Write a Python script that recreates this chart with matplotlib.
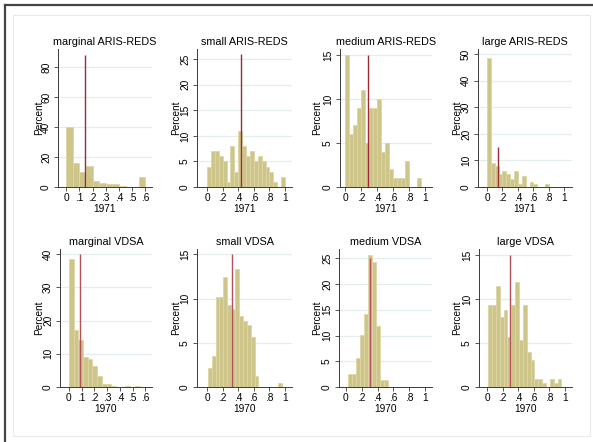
import matplotlib
matplotlib.use('Agg')
import matplotlib.pyplot as plt
from matplotlib.lines import Line2D
from matplotlib.patches import Rectangle
import numpy as np

plt.rcParams['font.family'] = ['Liberation Sans', 'DejaVu Sans']

W, H = 593, 442

titles = ['marginal ARIS-REDS', 'small ARIS-REDS', 'medium ARIS-REDS', 'large ARIS-REDS',
          'marginal VDSA', 'small VDSA', 'medium VDSA', 'large VDSA']
years = ['1971', '1971', '1971', '1971', '1970', '1970', '1970', '1970']

# percent in each bin
marg_aris = [40, 16, 10, 14, 4, 3, 2, 2, 1, 0, 0, 7]
small_aris = [4, 7, 7, 6, 5, 1, 8, 3, 11, 8, 6, 7, 5, 6, 5, 4, 3, 1, 0, 2]
med_aris = [15, 6, 7, 9, 11, 5, 9, 9, 10, 4, 5, 2, 1, 1, 1, 3, 0, 0, 1]
large_aris = [48.5, 9, 8, 5, 6, 5, 3, 6, 1, 4, 0, 2, 1, 0, 0, 1]
marg_vdsa = [38.5, 17.2, 14.1, 8.9, 8.4, 6.2, 3.4, 0.8, 0.8, 0.4, 0, 0, 0.4, 0, 0.4]
small_vdsa = [2.2, 3.5, 10.2, 10.2, 12.4, 9.3, 8.8, 13.3, 8.0, 7.5, 7.0, 5.7, 1.3, 0, 0, 0, 0, 0, 0.4]
med_vdsa = [2.6, 2.6, 5.7, 10.1, 14.1, 25.7, 24.3, 11.9, 1.3, 1.3]
large_vdsa = [9.3, 9.3, 11.5, 8.0, 8.8, 5.7, 9.3, 11.9, 5.3, 9.3, 4.0, 3.1, 0.9, 0.9, 0.4, 0, 0.9, 0.4, 0.9]

bin_start = [0, 0, 0, 0, 0, 0.01, 0.03, 0.01]
bin_width = [0.05, 0.05, 0.05, 0.05, 0.037, 0.05, 0.05, 0.05]
means = [0.14, 0.43, 0.29, 0.14, 0.087, 0.325, 0.30, 0.29]
line_top = [88, 26, 15, 15, 40, 15, 25, 15]

data = [marg_aris, small_aris, med_aris, large_aris, marg_vdsa, small_vdsa, med_vdsa, large_vdsa]

ymax = [92, 27, 15.7, 52, 41.6, 15.6, 26.8, 15.7]
ystep = [20, 5, 5, 10, 10, 5, 5, 5]
xmax_tick = [0.6, 1, 1, 1, 0.6, 1, 1, 1]
xlims = [(-0.063, 0.651), (-0.13, 1.09), (-0.067, 1.088), (-0.117, 1.10),
         (-0.070, 0.652), (-0.128, 1.09), (-0.085, 1.085), (-0.108, 1.096)]

# pixel boxes (left, right, top, bottom)
boxes = [(58, 152, 49, 187), (197, 292, 49, 187), (340, 432, 49, 187), (478, 572, 49, 187),
         (60, 152, 249, 387), (197, 292, 249, 387), (339, 432, 249, 387), (479, 572, 249, 387)]
ylab_x = [39, 176, 317, 457]

bar_fc = '#cec58a'
bar_ec = '#ddd6a4'
line_c = ['#9e2a35'] * 4 + ['#b5505a'] * 4
grid_c = '#e4edee'
ax_c = '#3a3a3a'


def fmt(v):
    if abs(v) < 1e-9:
        return '0'
    if abs(v - 1) < 1e-9:
        return '1'
    return ('%.1f' % v)[1:]


fig = plt.figure(figsize=(W / 100, H / 100), dpi=100)

# outer frame and graph region
fig.add_artist(Rectangle((13 / W, 1 - 436 / H), 577 / W, 421 / H, transform=fig.transFigure,
                         fill=False, edgecolor='#e6eced', lw=0.8))
fig.add_artist(Line2D([5 / W, 1], [1 - 5 / H, 1 - 5 / H], transform=fig.transFigure, color='#444', lw=1.6))
fig.add_artist(Line2D([5 / W, 5 / W], [0, 1 - 5 / H], transform=fig.transFigure, color='#444', lw=1.6))

for i in range(8):
    l, r, t, b = boxes[i]
    ax = fig.add_axes([l / W, 1 - b / H, (r - l) / W, (b - t) / H])
    vals = data[i]
    x = bin_start[i] + bin_width[i] * np.arange(len(vals))
    ax.bar(x, vals, width=bin_width[i], align='edge', color=bar_fc, edgecolor=bar_ec, lw=0.6, zorder=2)
    ax.vlines(means[i], 0, line_top[i], color=line_c[i], lw=1.0, zorder=3)

    ax.set_xlim(*xlims[i])
    ax.set_ylim(0, ymax[i])
    if xmax_tick[i] < 1:
        xt = np.round(np.arange(0, 0.61, 0.1), 2)
    else:
        xt = np.round(np.arange(0, 1.01, 0.2), 2)
    ax.set_xticks(xt)
    ax.set_xticklabels([fmt(v) for v in xt])
    yt = np.arange(0, ymax[i] + 0.01, ystep[i])
    ax.set_yticks(yt)
    ax.set_yticklabels(['%d' % v for v in yt], rotation=90, va='center')
    for v in yt[1:]:
        ax.axhline(v, color=grid_c, lw=0.9, zorder=1)

    for s in ['top', 'right']:
        ax.spines[s].set_visible(False)
    for s in ['left', 'bottom']:
        ax.spines[s].set_color(ax_c)
        ax.spines[s].set_linewidth(0.7)
    ax.tick_params(axis='both', direction='out', length=3, width=0.6, color=ax_c,
                   labelsize=7.3, labelcolor='black')
    ax.tick_params(axis='x', pad=1.2)
    ax.tick_params(axis='y', pad=2.0)

    cx = (l + r) / 2 / W
    fig.text(cx, 1 - (t - 7) / H, titles[i], ha='center', va='center', fontsize=7.8)
    fig.text(cx, 1 - (b + 22) / H, years[i], ha='center', va='center', fontsize=7.3)
    fig.text(ylab_x[i % 4] / W, 1 - (t + b) / 2 / H, 'Percent', rotation=90,
             ha='center', va='center', fontsize=7.2)

fig.savefig('out.png', dpi=100, facecolor='white')
